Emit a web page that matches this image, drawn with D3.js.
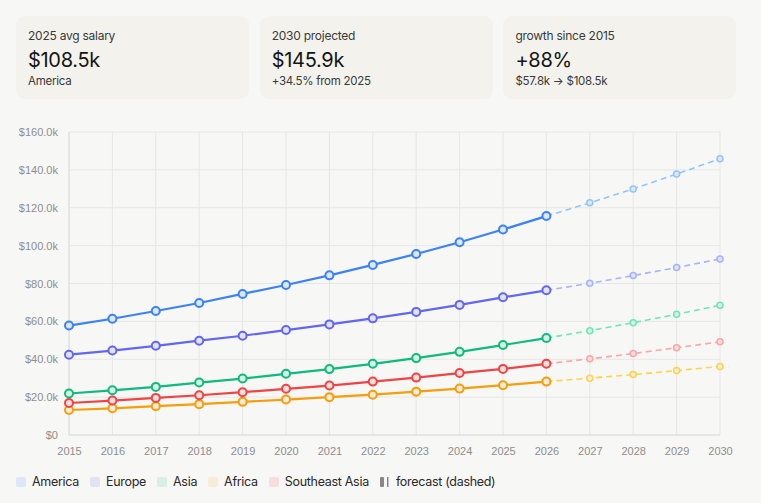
<!DOCTYPE html>
<html>
<head>
<meta charset="utf-8">
<script src="https://cdn.jsdelivr.net/npm/d3@7"></script>
<style>
  html, body { margin: 0; padding: 0; background: #f7f7f5; }
  body { width: 761px; height: 503px; overflow: hidden; font-family: Inter, "Noto Sans", sans-serif; }
  .card { position: absolute; top: 16px; width: 233px; height: 83px; background: #f3f2ec; border-radius: 9px; box-sizing: border-box; }
  .card .lab { position: absolute; top: 12px; left: 12px; font-size: 12px; line-height: 16px; color: #3a3a3a; letter-spacing: -0.25px; }
  .card .val { position: absolute; top: 31px; left: 12px; font-size: 20px; line-height: 26px; color: #151515; letter-spacing: -0.3px; }
  .card .sub { position: absolute; top: 57px; left: 12px; font-size: 11.5px; line-height: 16px; color: #3a3a3a; letter-spacing: -0.25px; }
  #chart { position: absolute; left: 0; top: 0; }
  #legend { position: absolute; left: 16px; top: 474px; display: flex; font-size: 12.5px; line-height: 16px; color: #2a2a2a; letter-spacing: -0.3px; }
  #legend .item { display: flex; align-items: center; margin-right: 11px; }
  #legend .sw { width: 10px; height: 10px; border-radius: 2px; margin-right: 6px; }
</style>
</head>
<body>
<div id="cards"></div>
<svg id="chart" width="761" height="470"></svg>
<div id="legend"></div>
<script>
// years on the x axis
var years = [2015, 2016, 2017, 2018, 2019, 2020, 2021, 2022, 2023, 2024, 2025, 2026, 2027, 2028, 2029, 2030];
var actualYears = [2015, 2016, 2017, 2018, 2019, 2020, 2021, 2022, 2023, 2024, 2025, 2026];
var forecastYears = [2027, 2028, 2029, 2030];

// salaries in $k
var america = [57.8, 61.4, 65.5, 69.7, 74.5, 79.2, 84.3, 89.8, 95.6, 101.8, 108.5, 115.6];
var americaForecast = [122.6, 129.9, 137.8, 145.9];
var europe = [42.4, 44.6, 47.1, 49.8, 52.4, 55.4, 58.4, 61.6, 65.0, 68.7, 72.7, 76.4];
var europeForecast = [80.1, 84.2, 88.4, 93.0];
var asia = [21.9, 23.6, 25.4, 27.7, 29.8, 32.3, 34.8, 37.6, 40.6, 43.9, 47.5, 51.2];
var asiaForecast = [55.1, 59.3, 63.7, 68.5];
var africa = [13.2, 14.1, 15.2, 16.3, 17.5, 18.7, 20.0, 21.3, 22.9, 24.5, 26.3, 28.2];
var africaForecast = [30.0, 31.9, 34.0, 36.2];
var seAsia = [16.9, 18.2, 19.6, 21.0, 22.6, 24.4, 26.1, 28.2, 30.3, 32.7, 34.9, 37.6];
var seAsiaForecast = [40.2, 43.0, 46.1, 49.2];

var yTicks = [0, 20, 40, 60, 80, 100, 120, 140, 160];

var cardLabels = ["2025 avg salary", "2030 projected", "growth since 2015"];
var cardValues = ["$108.5k", "$145.9k", "+88%"];
var cardSubs = ["America", "+34.5% from 2025", "$57.8k \u2192 $108.5k"];

var series = [
  {name: "America", actual: america, forecast: americaForecast, color: "#3b82f6", light: "#93c5fd", swatch: "#dde7f5"},
  {name: "Europe", actual: europe, forecast: europeForecast, color: "#6366f1", light: "#a5b4fc", swatch: "#e2e2f4"},
  {name: "Asia", actual: asia, forecast: asiaForecast, color: "#10b981", light: "#6ee7b7", swatch: "#d8efe5"},
  {name: "Africa", actual: africa, forecast: africaForecast, color: "#f59e0b", light: "#fcd34d", swatch: "#f8ecd9"},
  {name: "Southeast Asia", actual: seAsia, forecast: seAsiaForecast, color: "#ef4444", light: "#fca5a5", swatch: "#f6dede"}
];

// stat cards
var cardsDiv = d3.select("#cards");
cardLabels.forEach(function(l, i) {
  var c = cardsDiv.append("div").attr("class", "card").style("left", (16 + i * 243.7) + "px");
  c.append("div").attr("class", "lab").text(l);
  c.append("div").attr("class", "val").text(cardValues[i]);
  c.append("div").attr("class", "sub").text(cardSubs[i]);
});

var margin = {top: 132, left: 69, right: 41, bottom: 35},
    width = 761 - margin.left - margin.right,
    height = 470 - margin.top - margin.bottom;

var svg = d3.select("#chart").append("g")
  .attr("transform", "translate(" + margin.left + "," + margin.top + ")");

var x = d3.scaleLinear().domain([2015, 2030]).range([0, width]);
var y = d3.scaleLinear().domain([0, 160]).range([height, 0]);

// grid
svg.append("g").selectAll("line").data(years).enter().append("line")
  .attr("x1", d => x(d)).attr("x2", d => x(d)).attr("y1", 0).attr("y2", height)
  .attr("stroke", d => d == 2015 ? "#d4d4d4" : "#e6e6e6").attr("stroke-width", 1);
svg.append("g").selectAll("line").data(yTicks).enter().append("line")
  .attr("x1", 0).attr("x2", width).attr("y1", d => y(d)).attr("y2", d => y(d))
  .attr("stroke", d => d == 0 ? "#d4d4d4" : "#e6e6e6").attr("stroke-width", 1);

var fmt = d => d == 0 ? "$0" : "$" + d.toFixed(1) + "k";

var xAxis = svg.append("g").attr("transform", "translate(0," + height + ")")
  .call(d3.axisBottom(x).tickValues(years).tickFormat(d3.format("d")).tickSize(0).tickPadding(12));
var yAxis = svg.append("g")
  .call(d3.axisLeft(y).tickValues(yTicks).tickFormat(fmt).tickSize(0).tickPadding(11));
[xAxis, yAxis].forEach(function(a) {
  a.select(".domain").remove();
  a.selectAll("text").attr("fill", "#8e8e8e").style("font-family", "'Liberation Sans', Arial, sans-serif").style("font-size", "11px");
});

var line = d3.line().x(d => x(d[0])).y(d => y(d[1]));

series.forEach(function(s) {
  var act = actualYears.map((yr, i) => [yr, s.actual[i]]);
  var fc = [[actualYears[actualYears.length - 1], s.actual[s.actual.length - 1]]]
    .concat(forecastYears.map((yr, i) => [yr, s.forecast[i]]));

  svg.append("path").datum(fc).attr("d", line)
    .attr("fill", "none").attr("stroke", s.light).attr("stroke-width", 1.6)
    .attr("stroke-dasharray", "6,4");
  svg.append("g").selectAll("circle").data(fc.slice(1)).enter().append("circle")
    .attr("cx", d => x(d[0])).attr("cy", d => y(d[1])).attr("r", 3)
    .attr("fill", s.swatch).attr("stroke", s.light).attr("stroke-width", 1.5);

  svg.append("path").datum(act).attr("d", line)
    .attr("fill", "none").attr("stroke", s.color).attr("stroke-width", 2.2);
  svg.append("g").selectAll("circle").data(act).enter().append("circle")
    .attr("cx", d => x(d[0])).attr("cy", d => y(d[1])).attr("r", 4)
    .attr("fill", s.swatch).attr("stroke", s.color).attr("stroke-width", 2);
});

// legend
var legend = d3.select("#legend");
series.forEach(function(s) {
  var it = legend.append("div").attr("class", "item");
  it.append("div").attr("class", "sw").style("background", s.swatch);
  it.append("span").text(s.name);
});
var fcItem = legend.append("div").attr("class", "item");
var fsw = fcItem.append("svg").attr("width", 10).attr("height", 12).style("margin-right", 6);
fsw.append("rect").attr("x", 0).attr("y", 1).attr("width", 4).attr("height", 10).attr("rx", 1).attr("fill", "#888");
fsw.append("rect").attr("x", 7).attr("y", 1).attr("width", 1.5).attr("height", 10).attr("fill", "#888");
fcItem.append("span").text("forecast (dashed)");
</script>
</body>
</html>
